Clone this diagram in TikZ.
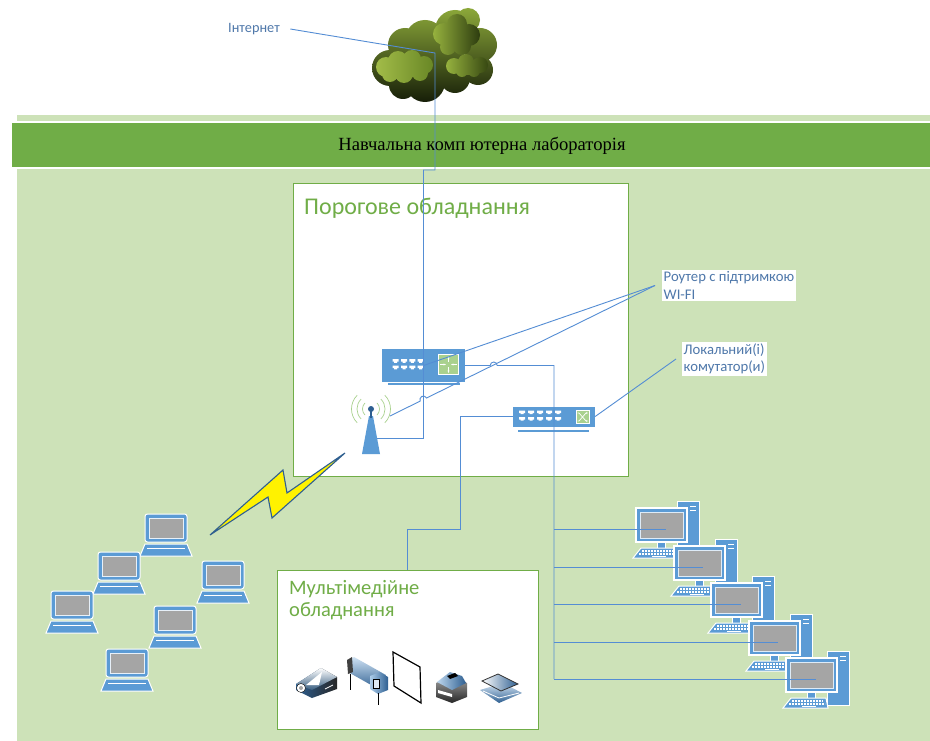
\documentclass[tikz,border=0pt]{standalone}
\usepackage{fontspec}
\setmainfont{Carlito}
\newfontfamily\timesfont{Liberation Serif}
\usetikzlibrary{positioning,calc,arrows.meta}

\definecolor{vertclair}{RGB}{205,226,184}
\definecolor{vertfonce}{RGB}{112,173,71}
\definecolor{vertpale}{RGB}{169,209,142}
\definecolor{bleu}{RGB}{91,155,213}
\definecolor{bleufonce}{RGB}{46,95,145}
\definecolor{gris}{RGB}{165,165,165}
\definecolor{texte}{RGB}{79,120,170}
\definecolor{ligne}{RGB}{84,141,212}

\tikzset{
  fil/.style={draw=ligne,line width=0.9pt},
  legende/.style={font=\fontsize{14.7}{17.5}\selectfont,text=texte,align=left,inner sep=1.5pt},
  titre/.style={text=vertfonce,align=left,inner sep=0pt},
  cadre/.style={draw=vertfonce,fill=white,line width=1pt},
  boitier/.style={fill=bleu,draw=none,inner sep=0pt},
  eclair/.style={fill=yellow,draw=bleufonce,line width=1.1pt,line join=miter},
  prise/.pic={
    \fill[white] (-3,-5.5) rectangle (3,-3) (-1.5,-3) rectangle (1.5,-1.8);
    \fill[white] (-3,1) rectangle (3,3.5) (-1.5,3.5) rectangle (1.5,4.7);
  },
  portable/.pic={
    \draw[white,fill=bleu,line width=1pt,rounded corners=2.5pt] (-21,-14) rectangle (21,14);
    \draw[white!85!bleu,fill=gris,line width=0.8pt] (-17,-10) rectangle (17,10);
    \draw[white,fill=bleu,line width=1pt] (-21,16) -- (21,16) -- (26,28) -- (-26,28) -- cycle;
    \draw[white,line width=1.5pt] (-19,20.5) -- (19,20.5);
  },
  poste/.pic={
    \draw[white,fill=bleu,line width=1pt] (16,-24) rectangle (38,30);%la tour
    \draw[white,line width=1pt] (29,-19) -- (35,-19) (29,-15) -- (35,-15);
    \draw[white,fill=bleu,line width=0.8pt] (-4,16) rectangle (4,23);%le pied
    \draw[white,fill=bleu,line width=1.2pt] (-25,-17) rectangle (26,17);%l'ecran
    \draw[white!80!bleu,fill=gris,line width=1pt] (-21,-13) rectangle (22,13);
    \draw[white,fill=bleu,line width=1pt] (-20,23) -- (15,23) -- (17,33) -- (-28,33) -- cycle;%le clavier
    \draw[white,line width=1.3pt,dash pattern=on 2pt off 1pt] (-19,26) -- (12,26) (-22,29) -- (14,29);
    \draw[white,line width=1.3pt] (-9,31.5) -- (5,31.5);
  },
}

\begin{document}
\begin{tikzpicture}[x=1pt,y=-1pt]
\useasboundingbox (0,0) rectangle (930,741);
\fill[white] (0,0) rectangle (930,741);

%le fond et le bandeau
\fill[vertclair] (17,115) rectangle (930,741);
\draw[white,fill=vertfonce,line width=1.5pt] (11,122) rectangle (932,168);
\node[font=\timesfont\fontsize{18.6}{20}\selectfont] (labo) at (482,146) {Навчальна комп ютерна лабораторія};

%les cadres
\node[cadre,minimum width=335pt,minimum height=292pt] (porog) at (460.5,330) {};
\node[titre,font=\fontsize{24}{24}\selectfont,anchor=west] at (304,208) {Порогове обладнання};
\node[cadre,minimum width=261pt,minimum height=159pt] (mm) at (407.5,649.5) {};
\node[titre,font=\fontsize{20.5}{21}\selectfont,anchor=north west] at (289,580) {Мультімедійне\\[1pt]обладнання};

%le nuage
\shade[top color={rgb,255:red,140;green,168;blue,58},bottom color={rgb,255:red,22;green,30;blue,8}]
  (390,68) circle (18pt) (405,45) circle (17pt) (425,40) circle (20pt) (455,30) circle (20pt)
  (468,20) circle (12pt) (480,45) circle (17pt) (478,70) circle (15pt) (455,78) circle (15pt)
  (425,82) circle (20pt) (403,85) circle (14pt) (440,60) circle (25pt);
\shade[left color={rgb,255:red,162;green,188;blue,72},right color={rgb,255:red,105;green,135;blue,38}]
  (386,67) circle (10pt) (398,61) circle (10pt) (412,59) circle (9pt) (424,65) circle (9pt)
  (420,73) circle (8pt) (404,74) circle (9pt) (390,74) circle (8pt) (408,67) circle (11pt);
\shade[left color={rgb,255:red,150;green,178;blue,62},right color={rgb,255:red,45;green,60;blue,15}]
  (444,34) circle (11pt) (457,24) circle (10pt) (469,35) circle (11pt) (462,46) circle (9pt)
  (448,47) circle (8pt) (457,36) circle (12pt);
\shade[left color={rgb,255:red,150;green,178;blue,62},right color={rgb,255:red,55;green,72;blue,18}]
  (454,66) circle (8pt) (466,62) circle (8pt) (480,65) circle (8pt) (474,71) circle (6pt)
  (462,71) circle (6pt) (468,67) circle (8pt);

%le routeur
\node[boitier,minimum width=83pt,minimum height=33pt] (rtr) at (423.5,365.5) {};
\draw[bleu,line width=2pt] (388,384) -- (460,384);
\pic at (395.7,364.7) {prise};
\pic at (404,364.7) {prise};
\pic at (412.3,364.7) {prise};
\pic at (420.6,364.7) {prise};
\node[draw=white,fill=vertpale,line width=1pt,minimum size=20pt,inner sep=0pt] (rtrv) at (448.5,364.5) {};
\draw[white,line width=0.8pt,-{Stealth[length=2.5pt]}] (440,364.5) -- (446,364.5);
\draw[white,line width=0.8pt,-{Stealth[length=2.5pt]}] (457,364.5) -- (451,364.5);
\draw[white,line width=0.8pt,-{Stealth[length=2.5pt]}] (448.5,362) -- (448.5,356);
\draw[white,line width=0.8pt,-{Stealth[length=2.5pt]}] (448.5,367) -- (448.5,373);

%le commutateur
\node[boitier,minimum width=82pt,minimum height=20pt] (sw) at (554,416.5) {};
\draw[bleu,line width=2pt] (518,431) -- (589,431);
\pic at (522,416) {prise};
\pic at (531,416) {prise};
\pic at (540,416) {prise};
\pic at (549,416) {prise};
\pic at (558,416) {prise};
\node[draw=white,fill=vertpale,line width=0.8pt,minimum size=13pt,inner sep=0pt] (swv) at (582.5,417) {};
\draw[white,line width=0.7pt,-{Stealth[length=2pt]}] (577.5,413) -- (579,413) -- (586,421) -- (588,421);
\draw[white,line width=0.7pt,-{Stealth[length=2pt]}] (577.5,421) -- (579,421) -- (586,413) -- (588,413);

%l'antenne
\coordinate (mat) at (371,409);
\coordinate (ant) at (371,438);
\draw[vertpale,line width=0.7pt] (mat) ++(-45:8.5pt) arc[start angle=-45,end angle=45,radius=8.5pt];
\draw[vertpale,line width=0.7pt] (mat) ++(-45:14pt) arc[start angle=-45,end angle=45,radius=14pt];
\draw[vertpale,line width=0.7pt] (mat) ++(-45:19.5pt) arc[start angle=-45,end angle=45,radius=19.5pt];
\draw[vertpale,line width=0.7pt] (mat) ++(135:8.5pt) arc[start angle=135,end angle=225,radius=8.5pt];
\draw[vertpale,line width=0.7pt] (mat) ++(135:14pt) arc[start angle=135,end angle=225,radius=14pt];
\draw[vertpale,line width=0.7pt] (mat) ++(135:19.5pt) arc[start angle=135,end angle=225,radius=19.5pt];
\draw[fil] (rtr.center) |- (ant);
\fill[bleu] (362,454) -- (380,454) -- (373,416) -- (369,416) -- cycle;
\draw[bleufonce,line width=1.5pt] (mat) -- (371,418);
\fill[bleufonce] (mat) circle (3pt);

%l'eclair
\draw[eclair] (210,535) -- (283,470) -- (287,493) -- (345,453) -- (272,518) -- (268,497) -- cycle;

%les portables
\pic at (166,528) {portable};
\pic at (119,566) {portable};
\pic at (72,605) {portable};
\pic at (223,575) {portable};
\pic at (175,620) {portable};
\pic at (127,663) {portable};

%les postes
\pic at (661,525) {poste};
\pic at (699,563) {poste};
\pic at (736,600) {poste};
\pic at (774,638) {poste};
\pic at (811,675) {poste};
\coordinate (pc1) at (666,529);
\coordinate (pc2) at (703,567);
\coordinate (pc3) at (741,604);
\coordinate (pc4) at (778,642);
\coordinate (pc5) at (816,679);
\coordinate (bus) at (554,679);

%le materiel multimedia
\shade[left color=bleufonce,right color=black!85] (296,684) -- (321,668) -- (337,677) -- (337,689) -- (312,698) -- (296,690) -- cycle;%projecteur
\shade[top color=white,bottom color=bleu!60!black] (296,684) -- (321,668) -- (337,677) -- (312,690) -- cycle;
\fill[white] (306,685) -- (322,672) -- (319,685) -- cycle;
\draw[black,fill=white] (301,688) circle (4.5pt);
\fill[gris] (301,688) circle (2pt);
\draw[white,line width=0.8pt] (325,689) -- (333,685);
\shade[top color=bleu!30!white,bottom color=bleufonce] (348,661) -- (354,657) -- (386,675) -- (386,687) -- (380,690) -- (348,672) -- cycle;%traceur
\fill[black!75] (347,660) -- (352,657) -- (353,672) -- (348,674) -- cycle;
\shade[left color=bleu!50!white,right color=bleufonce] (370,676) -- (380,672) -- (388,677) -- (388,690) -- (378,694) -- (370,689) -- cycle;
\draw[black,fill=white!80!bleu,line width=0.5pt] (373,679) rectangle (379,688);
\draw[black,line width=1pt] (350,674) -- (350,690) (378,693) -- (378,705);
\draw[black,line width=1.2pt,fill=white] (393,652) -- (420,667) -- (421,703) -- (394,686) -- cycle;%ecran
\shade[top color=black!35,bottom color=black!85] (436,683) -- (452,676) -- (467,683) -- (467,697) -- (452,703) -- (436,697) -- cycle;%imprimante
\shade[left color=bleu!40!white,right color=bleufonce] (437,682) -- (450,672) -- (462,676) -- (466,683) -- (452,690) -- cycle;
\fill[black] (447,676) -- (455,673) -- (458,676) -- (450,679) -- cycle;
\fill[white] (438,690) -- (452,694) -- (452,697) -- (438,693) -- cycle;
\shade[top color=bleu!25!white,bottom color=bleufonce] (480,690) -- (503,683) -- (522,693) -- (499,703) -- cycle;%scanner
\draw[black!80,line width=0.8pt,left color=white,right color=bleufonce] (482,681) -- (498,674) -- (518,684) -- (501,691) -- cycle;
\draw[white,line width=0.8pt] (483,691) -- (499,698) -- (519,693);

%les liaisons
\node[font=\fontsize{14.3}{16}\selectfont,text=texte] (inet) at (254,29) {Інтернет};
\coordinate (nuage) at (435,53);
\draw[fil] ([xshift=7pt]inet.east) -- (nuage) -- ++(0,117) -| (rtr.center);
\draw[fil] (rtr.east) -- ++(25,0) arc[start angle=180,end angle=0,radius=3.5pt] -| (bus);
\draw[fil] (bus |- pc1) -- (pc1);
\draw[fil] (bus |- pc2) -- (pc2);
\draw[fil] (bus |- pc3) -- (pc3);
\draw[fil] (bus |- pc4) -- (pc4);
\draw[fil] (bus) -- (pc5);
\draw[fil] (sw.west) -| ++(-52,113) -| (mm.north);

%les legendes
\node[legende,fill=white,anchor=west] (wifi) at (662,285.5) {Роутер с підтримкою\\WI-FI};
\node[legende,fill=white,anchor=west] (lsw) at (682,359) {Локальний(і)\\комутатор(и)};
\coordinate (wifi-pt) at ([xshift=-7pt]wifi.west);
\coordinate (ondes) at (390,416);
\coordinate (saut) at ($(wifi-pt)!0.874!(ondes)$);
\draw[fil] (wifi-pt) -- (rtr.center);
\draw[fil] (wifi-pt) -- ($(saut)!3.5pt!(wifi-pt)$) arc[start angle=26,end angle=206,radius=3.5pt] -- (ondes);
\draw[fil] ([xshift=-6pt]lsw.west) -- (sw.east);
\end{tikzpicture}
\end{document}
